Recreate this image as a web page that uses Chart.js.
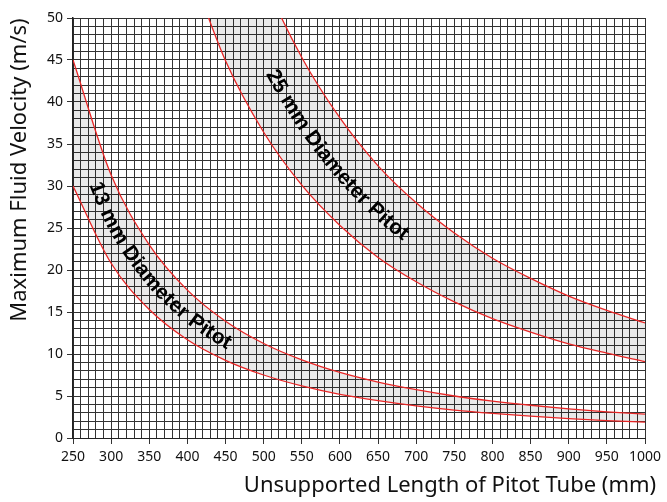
<!DOCTYPE html>
<html>
<head>
<meta charset="utf-8">
<script src="https://cdn.jsdelivr.net/npm/chart.js@4.4.1/dist/chart.umd.min.js"></script>
<style>
  html, body { margin: 0; padding: 0; background: #fff; }
  #wrap { width: 667px; height: 502px; }
</style>
</head>
<body>
<div id="wrap"><canvas id="chart"></canvas></div>
<script>
// values (m/s against mm)
const lengths13 = [250, 300, 350, 400, 450, 500, 550, 600, 650, 700, 750, 800, 850, 900, 950, 1000];
const v13High = [45, 31.3, 23.0, 17.6, 13.9, 11.25, 9.3, 7.8, 6.65, 5.75, 5.0, 4.4, 3.9, 3.47, 3.12, 2.85];
const v13Low = [30, 20.8, 15.3, 11.7, 9.25, 7.5, 6.2, 5.2, 4.45, 3.83, 3.33, 2.93, 2.6, 2.31, 2.08, 1.9];

const lengths25 = [400, 450, 500, 550, 600, 650, 700, 750, 800, 850, 900, 950, 1000];
const v25High = [85.6, 67.6, 54.8, 45.3, 38.1, 32.4, 28.0, 24.4, 21.4, 19.0, 16.9, 15.2, 13.7];
const v25Low = [56.9, 44.9, 36.4, 30.1, 25.3, 21.5, 18.6, 16.2, 14.2, 12.6, 11.2, 10.1, 9.1];

const xTitle = 'Unsupported Length of Pitot Tube (mm)';
const yTitle = 'Maximum Fluid Velocity (m/s)';
const bandLabels = [
  { text: '13 mm Diameter Pitot', upper: 0, lower: 1, at: 348 },
  { text: '25 mm Diameter Pitot', upper: 2, lower: 3, at: 587 }
];

const red = 'rgb(232, 38, 38)';
const band = 'rgba(0, 0, 0, 0.085)';
const gridColor = '#333';

function pts(xs, ys) {
  return xs.map((x, i) => ({ x, y: ys[i] }));
}

// text laid along the middle of a shaded band
function drawBandLabel(chart, lab) {
  const ctx = chart.ctx;
  const a = chart.getDatasetMeta(lab.upper).dataset;
  const b = chart.getDatasetMeta(lab.lower).dataset;
  const area = chart.chartArea;
  const path = [];
  for (let x = area.left + 1; x < area.right - 1; x += 0.5) {
    const pa = a.interpolate({ x }, 'x');
    const pb = b.interpolate({ x }, 'x');
    if (!pa || !pb || Array.isArray(pa) || Array.isArray(pb)) continue;
    const y = (pa.y + pb.y) / 2;
    if (y < area.top - 40) continue;
    path.push({ x, y });
  }
  const s = [0];
  for (let i = 1; i < path.length; i++) {
    s.push(s[i - 1] + Math.hypot(path[i].x - path[i - 1].x, path[i].y - path[i - 1].y));
  }
  const cx = chart.scales.x.getPixelForValue(lab.at);
  let ci = 0;
  while (ci < path.length - 1 && path[ci].x < cx) ci++;
  const sc = s[ci];

  function at(d) {
    let i = 1;
    while (i < s.length - 1 && s[i] < d) i++;
    const t = (d - s[i - 1]) / (s[i] - s[i - 1] || 1);
    return {
      x: path[i - 1].x + (path[i].x - path[i - 1].x) * t,
      y: path[i - 1].y + (path[i].y - path[i - 1].y) * t
    };
  }

  ctx.save();
  ctx.font = 'bold 21px "Liberation Sans", Arial, sans-serif';
  ctx.fillStyle = '#000';
  ctx.textAlign = 'center';
  ctx.textBaseline = 'middle';
  const total = ctx.measureText(lab.text).width;
  let d = sc - total / 2;
  for (const ch of lab.text) {
    const w = ctx.measureText(ch).width;
    const m = d + w / 2;
    const p = at(m);
    const p0 = at(m - 5), p1 = at(m + 5);
    const ang = Math.atan2(p1.y - p0.y, p1.x - p0.x);
    ctx.save();
    ctx.translate(p.x, p.y);
    ctx.rotate(ang);
    ctx.fillText(ch, 0, 1);
    ctx.restore();
    d += w;
  }
  ctx.restore();
}

const labelsPlugin = {
  id: 'labels',
  afterDatasetsDraw(chart) {
    bandLabels.forEach(l => drawBandLabel(chart, l));
  },
  afterDraw(chart) {
    const ctx = chart.ctx;
    ctx.save();
    ctx.fillStyle = '#111';
    ctx.font = '22px "Noto Sans", sans-serif';
    ctx.textAlign = 'center';
    ctx.textBaseline = 'middle';
    ctx.fillText(xTitle, 450, 486);
    ctx.translate(20, 170);
    ctx.rotate(-Math.PI / 2);
    ctx.fillText(yTitle, 0, 0);
    ctx.restore();
  }
};

new Chart(document.getElementById('chart'), {
  type: 'line',
  data: {
    datasets: [
      { data: pts(lengths13, v13High), fill: false },
      { data: pts(lengths13, v13Low), fill: '-1', backgroundColor: band },
      { data: pts(lengths25, v25High), fill: false },
      { data: pts(lengths25, v25Low), fill: '-1', backgroundColor: band }
    ]
  },
  options: {
    responsive: true,
    maintainAspectRatio: false,
    animation: false,
    devicePixelRatio: 1,
    layout: { padding: { top: 18, right: 22, left: 0, bottom: 0 } },
    elements: {
      line: { borderColor: red, borderWidth: 1.3, cubicInterpolationMode: 'monotone', capBezierPoints: false },
      point: { radius: 0 }
    },
    plugins: {
      legend: { display: false },
      tooltip: { enabled: false }
    },
    scales: {
      x: {
        type: 'linear',
        min: 250,
        max: 1000,
        afterFit: s => { s.height = 64; },
        ticks: {
          stepSize: 10,
          autoSkip: false,
          maxRotation: 0,
          padding: 5,
          color: '#111',
          font: { family: '"Noto Sans", sans-serif', size: 14 },
          callback: v => (v % 50 === 0 ? v : '')
        },
        grid: {
          color: gridColor,
          lineWidth: 1,
          tickLength: 6,
          tickColor: c => (c.tick && c.tick.value % 50 === 0 ? gridColor : 'rgba(0,0,0,0)')
        },
        border: { color: '#222', width: 1 }
      },
      y: {
        min: 0,
        max: 50,
        afterFit: s => { s.width = 73; },
        ticks: {
          stepSize: 1,
          autoSkip: false,
          padding: 4,
          color: '#111',
          font: { family: '"Noto Sans", sans-serif', size: 14 },
          callback: v => (v % 5 === 0 ? v : '')
        },
        grid: {
          color: gridColor,
          lineWidth: 1,
          tickLength: 6,
          tickColor: c => (c.tick && c.tick.value % 5 === 0 ? gridColor : 'rgba(0,0,0,0)')
        },
        border: { color: '#222', width: 1.5 }
      }
    }
  },
  plugins: [labelsPlugin]
});
</script>
</body>
</html>
